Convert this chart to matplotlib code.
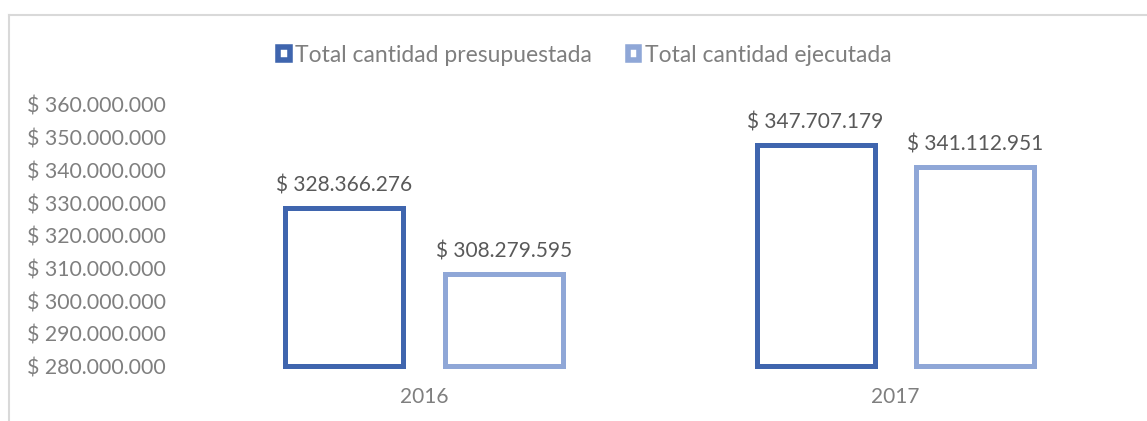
import matplotlib.pyplot as plt
import numpy as np
from matplotlib.patches import Patch
from matplotlib.lines import Line2D
from matplotlib.ticker import FuncFormatter

years = ["2016", "2017"]
presupuestada = [328366276, 347707179]
ejecutada = [308279595, 341112951]
series_names = ["Total cantidad presupuestada", "Total cantidad ejecutada"]

y_min = 280000000
y_max = 360000000

dark_blue = "#3F65AE"
light_blue = "#8FA7D7"
axis_gray = "#7F7F7F"
label_gray = "#595959"

plt.rcParams['font.family'] = ['Lato', 'DejaVu Sans']


def money(v):
    return "$ " + f"{int(round(v)):,}".replace(",", ".")


fig = plt.figure(figsize=(11.47, 4.21), dpi=100)
ax = fig.add_axes([0.164, 0.1295, 0.8223, 0.6211])

x = np.arange(len(years))
offset = 0.1694
width = 0.25
# bars start at the axis floor so their bottom edge is drawn like in Excel
b1 = ax.bar(x - offset, np.array(presupuestada) - y_min, width, bottom=y_min,
            facecolor="white", edgecolor=dark_blue, linewidth=3.6, clip_on=False)
b2 = ax.bar(x + offset, np.array(ejecutada) - y_min, width, bottom=y_min,
            facecolor="white", edgecolor=light_blue, linewidth=3.6, clip_on=False)

for bars, vals in ((b1, presupuestada), (b2, ejecutada)):
    ax.bar_label(bars, labels=[money(v) for v in vals],
                 padding=9, fontsize=15, color=label_gray)

ax.set_xlim(-0.5, 1.5)
ax.set_ylim(y_min, y_max)
ax.set_yticks(np.arange(y_min, y_max + 1, 10000000))
ax.yaxis.set_major_formatter(FuncFormatter(lambda v, p: money(v)))
ax.set_xticks(x)
ax.set_xticklabels(years)
ax.tick_params(axis="y", length=0, pad=16, labelsize=15.3, labelcolor=axis_gray)
ax.tick_params(axis="x", length=0, pad=15, labelsize=15, labelcolor=axis_gray)
for s in ax.spines.values():
    s.set_visible(False)

handles = [Patch(facecolor="white", edgecolor=dark_blue, linewidth=4),
           Patch(facecolor="white", edgecolor=light_blue, linewidth=4)]
fig.legend(handles, series_names, loc="center", bbox_to_anchor=(0.51, 0.869),
           ncol=2, frameon=False, fontsize=16.5, labelcolor=axis_gray,
           handlelength=0.5, handleheight=0.5, handletextpad=0.25,
           columnspacing=1.55)

# chart border (only top and left visible)
fig.add_artist(Line2D([9 / 1147, 1], [1 - 15 / 421, 1 - 15 / 421],
                      transform=fig.transFigure, color="#D9D9D9", linewidth=1.5))
fig.add_artist(Line2D([9 / 1147, 9 / 1147], [0, 1 - 15 / 421],
                      transform=fig.transFigure, color="#D9D9D9", linewidth=1.5))

fig.savefig("out.png", dpi=100)
